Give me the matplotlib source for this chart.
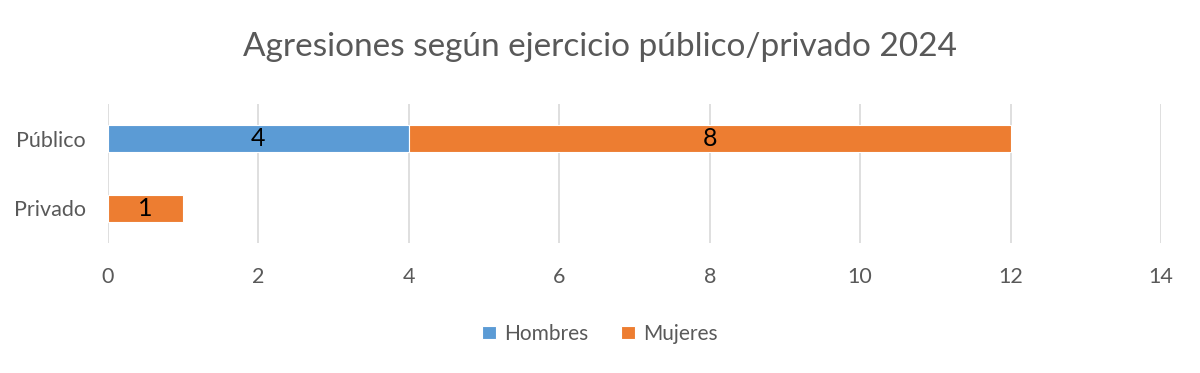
import matplotlib
matplotlib.use("Agg")
import matplotlib.pyplot as plt
import numpy as np

categories = ["Público", "Privado"]
hombres = [4, 0]
mujeres = [8, 1]
xticks = [0, 2, 4, 6, 8, 10, 12, 14]

plt.rcParams['font.family'] = ['Lato', 'DejaVu Sans']
fig = plt.figure(figsize=(12, 3.73), dpi=100)
ax = fig.add_axes([0.09, 0.3485, 0.8775, 0.3727])

y = np.arange(len(categories))
h = np.array(hombres, dtype=float)
m = np.array(mujeres, dtype=float)
bh = 0.39
b1 = ax.barh(y, h, height=bh, color="#5B9BD5", edgecolor="white", linewidth=0.8, zorder=3)
b2 = ax.barh(y, m, left=h, height=bh, color="#ED7D31", edgecolor="white", linewidth=0.8, zorder=3)

for rect, v in zip(b1, hombres):
    if v:
        ax.text(rect.get_x() + rect.get_width() / 2, rect.get_y() + rect.get_height() / 2, str(v),
                ha="center", va="center", fontsize=18, color="black", zorder=4)
for rect, v in zip(b2, mujeres):
    if v:
        ax.text(rect.get_x() + rect.get_width() / 2, rect.get_y() + rect.get_height() / 2, str(v),
                ha="center", va="center", fontsize=18, color="black", zorder=4)

ax.set_xlim(0, 14)
ax.set_ylim(1.5, -0.5)
ax.set_xticks(xticks)
ax.set_xticklabels([str(t) for t in xticks])
ax.set_yticks(y)
ax.set_yticklabels(categories)
ax.tick_params(axis="both", length=0, labelsize=15.5, labelcolor="#595959")
ax.tick_params(axis="x", pad=17)
ax.tick_params(axis="y", pad=16)
ax.grid(axis="x", color="#D9D9D9", linewidth=1.2, zorder=0)
for s in ax.spines.values():
    s.set_visible(False)

fig.suptitle("Agresiones según ejercicio público/privado 2024", x=0.5, y=0.915,
             fontsize=24, color="#595959")

leg = fig.legend([b1, b2], ["Hombres", "Mujeres"], loc="center", bbox_to_anchor=(0.5, 0.105),
                 ncol=2, frameon=False, fontsize=15, handlelength=0.65, handleheight=0.65,
                 handletextpad=0.4, columnspacing=1.6)
for t in leg.get_texts():
    t.set_color("#595959")

fig.savefig("out.png", dpi=100)
